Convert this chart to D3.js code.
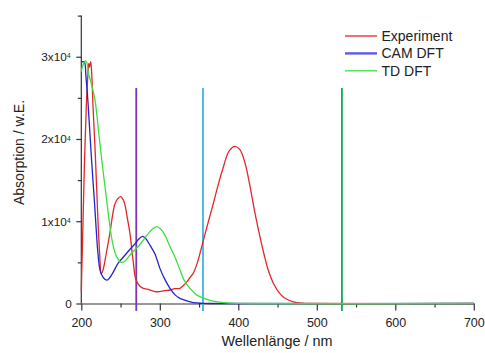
<!DOCTYPE html>
<html>
<head>
<meta charset="utf-8">
<script src="https://cdn.jsdelivr.net/npm/d3@7"></script>
<style>
  html, body { margin: 0; padding: 0; background: #fff; }
  svg { display: block; font-family: "Liberation Sans", Arial, sans-serif; }
</style>
</head>
<body>
<svg id="chart" width="485" height="353"></svg>
<script>
// ---------- data ----------
const seriesNames = ["Experiment", "CAM DFT", "TD DFT"];

const expWavelength = [200, 200.9, 202.2, 204.3, 206.4, 208.5, 209.5, 210.5, 212, 213.5, 214.9, 217.9, 220.4, 223.4, 225.5, 228, 232, 236, 242.5, 246, 250, 254, 256, 259, 262, 264.5, 266.5, 268.5, 271, 274.8, 279, 284, 290, 296, 300, 306, 313, 319, 325.7, 330, 335, 338, 342.7, 348, 355, 362, 368, 374, 381, 388, 395.8, 402, 408.5, 415, 421, 427.6, 433, 438, 445, 453, 460, 470, 482, 490, 700];
const expAbsorption = [1500, 5000, 10000, 18000, 24000, 28000, 29200, 28700, 29400, 27500, 24000, 18000, 12000, 6000, 3600, 4200, 6200, 8300, 12000, 12700, 13000, 12500, 11800, 10200, 8500, 6400, 4800, 3300, 2600, 2100, 1850, 1750, 1560, 1430, 1450, 1560, 1640, 1800, 1850, 2200, 2700, 3100, 3700, 5000, 7500, 10000, 12100, 14300, 16600, 18500, 19100, 18700, 17100, 14200, 11100, 8100, 5900, 4100, 2400, 1200, 600, 200, 30, 0, 0];

const camWavelength = [200, 202, 204, 206, 208.5, 212.7, 217, 221.3, 224, 227.6, 230, 233, 236, 240, 247, 255, 262, 268, 273, 278, 282, 288, 294, 300, 306.6, 313, 319.4, 325.7, 332, 342.7, 355, 370, 700];
const camAbsorption = [29300, 29400, 29350, 27500, 24500, 18000, 12000, 6000, 4000, 3200, 2950, 2850, 3100, 3700, 4900, 5800, 6600, 7200, 7800, 8150, 7900, 7000, 6000, 4300, 2900, 1850, 1050, 630, 400, 100, 20, 0, 0];

const tdWavelength = [200, 202, 205, 207, 209, 212, 217.5, 221.7, 226, 232.4, 236, 240, 245, 251, 255, 262, 268, 275, 282, 290, 296, 300, 306, 313, 320, 325.7, 332, 338.5, 345, 351, 360, 368, 385, 410, 700];
const tdAbsorption = [28200, 29000, 29480, 29300, 28000, 27000, 24700, 21200, 17500, 12500, 9700, 7300, 5700, 5000, 5100, 5900, 6500, 7200, 8100, 9000, 9340, 9140, 8400, 6900, 5500, 4070, 2650, 1850, 1200, 830, 500, 300, 80, 0, 0];

// vertical marker lines (wavelengths in nm, heights in data units)
const markerWavelengths = [270, 355, 532];
const markerTop = 26200;
const markerBottom = -900;

const xTicksMajor = [200, 300, 400, 500, 600, 700];
const xTicksMinor = [250, 350, 450, 550, 650];
const yTicksMajor = [0, 10000, 20000, 30000];
const yTicksMinor = [5000, 15000, 25000, 35000];
const yTickMantissa = ["0", "1x10", "2x10", "3x10"];
const yTickExponent = ["", "4", "4", "4"];

const xTitle = "Wellenlänge / nm";
const yTitle = "Absorption / w.E.";

// ---------- styles ----------
const seriesColors = ["#E3262A", "#2323CF", "#3CE03C"];
const legendColors = ["#E3262A", "#5B5BE6", "#3CE03C"];
const markerColors = ["#7A35BE", "#3DB5E2", "#0DAA55"];
const axisColor = "#333";

// ---------- scales ----------
const svg = d3.select("#chart");
const x = d3.scaleLinear().domain([200, 700]).range([81.3, 473.8]);
const y = d3.scaleLinear().domain([0, 35000]).range([303.5, 15.6]);

// ---------- curves ----------
const line = d3.line().x(d => x(d[0])).y(d => y(d[1])).curve(d3.curveCatmullRom.alpha(0.5));
const series = [
  d3.zip(expWavelength, expAbsorption),
  d3.zip(camWavelength, camAbsorption),
  d3.zip(tdWavelength, tdAbsorption)
];

// ---------- axes ----------
const gx = svg.append("g").attr("transform", `translate(0,${y(0)})`);
gx.call(d3.axisBottom(x).tickValues(xTicksMajor).tickSize(7).tickSizeOuter(0).tickFormat(d3.format("d")));
gx.append("g").call(d3.axisBottom(x).tickValues(xTicksMinor).tickSize(4).tickSizeOuter(0).tickFormat(""))
  .select(".domain").remove();
gx.selectAll("path.domain, line").attr("stroke", axisColor).attr("stroke-width", 1.2);
gx.selectAll("text").attr("fill", "#222").attr("font-size", "12.5px")
  .attr("font-family", "Liberation Sans, Arial, sans-serif").attr("dy", "1.05em");

const gy = svg.append("g").attr("transform", `translate(${x(200)},0)`);
gy.call(d3.axisLeft(y).tickValues(yTicksMajor).tickSize(5).tickSizeOuter(0).tickFormat(""));
gy.append("g").call(d3.axisLeft(y).tickValues(yTicksMinor).tickSize(3.5).tickSizeOuter(0).tickFormat(""))
  .select(".domain").remove();
gy.select(".domain").attr("d", `M0,${y(35000)}V${y(0)}`);
gy.selectAll("path.domain, line").attr("stroke", axisColor).attr("stroke-width", 1.2);

// y tick labels with superscripts
const yl = svg.append("g").attr("fill", "#222");
yTicksMajor.forEach((v, i) => {
  yl.append("text")
    .attr("x", x(200) - 9.5 - (yTickExponent[i] ? 5 : 0))
    .attr("y", y(v) + 4.3)
    .attr("text-anchor", "end")
    .attr("font-size", "11.8px")
    .text(yTickMantissa[i]);
  if (yTickExponent[i]) {
    yl.append("text")
      .attr("x", x(200) - 14.3)
      .attr("y", y(v) + 1.6)
      .attr("font-size", "6.5px")
      .text(yTickExponent[i]);
  }
});

// ---------- marker lines ----------
svg.append("g").selectAll("line").data(markerWavelengths).join("line")
  .attr("x1", d => x(d)).attr("x2", d => x(d))
  .attr("y1", y(markerBottom)).attr("y2", y(markerTop))
  .attr("stroke", (d, i) => markerColors[i]).attr("stroke-width", 1.8);

// ---------- series ----------
svg.append("g").selectAll("path").data(series).join("path")
  .attr("d", line)
  .attr("fill", "none")
  .attr("stroke", (d, i) => seriesColors[i])
  .attr("stroke-width", 1.3)
  .attr("stroke-linejoin", "round");

// ---------- legend ----------
const lg = svg.append("g");
seriesNames.forEach((name, i) => {
  const yy = 36 + i * 17.4;
  lg.append("line").attr("x1", 345).attr("x2", 377).attr("y1", yy).attr("y2", yy)
    .attr("stroke", legendColors[i]).attr("stroke-width", i === 1 ? 2.4 : 1.3);
  lg.append("text").attr("x", 381.5).attr("y", yy + 5)
    .attr("font-size", "14px").attr("fill", "#222").text(name);
});

// ---------- axis titles ----------
svg.append("text").attr("x", 277).attr("y", 345.5).attr("text-anchor", "middle")
  .attr("font-size", "14.4px").attr("fill", "#222").text(xTitle);
svg.append("text").attr("transform", "translate(23.5,152.5) rotate(-90)")
  .attr("text-anchor", "middle").attr("font-size", "14px").attr("fill", "#222").text(yTitle);
</script>
</body>
</html>
